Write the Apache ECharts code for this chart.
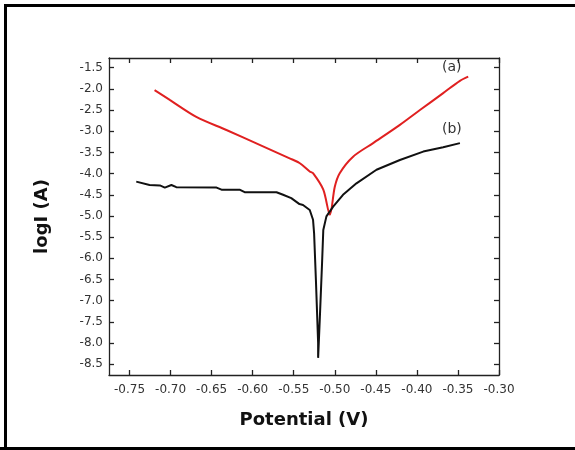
<!DOCTYPE html>
<html>
<head>
<meta charset="utf-8">
<script src="https://cdn.jsdelivr.net/npm/echarts@6/dist/echarts.min.js"></script>
<style>
html, body { margin: 0; padding: 0; background: #fff; }
#main { width: 575px; height: 450px; }
</style>
</head>
<body>
<div id="main"></div>
<script>
'use strict';

// tick values
var xTicks = [-0.75, -0.70, -0.65, -0.60, -0.55, -0.50, -0.45, -0.40, -0.35, -0.30];
var yTicks = [-8.5, -8.0, -7.5, -7.0, -6.5, -6.0, -5.5, -5.0, -4.5, -4.0, -3.5, -3.0, -2.5, -2.0, -1.5];

// curve (a) - red
var potentialA = [-0.7195, -0.701, -0.6687, -0.632, -0.5915, -0.555, -0.543, -0.5305, -0.5265, -0.514, -0.506,
    -0.500, -0.494, -0.4777, -0.4533, -0.4207, -0.3963, -0.368, -0.3476, -0.3375];
var logIA = [-2.03, -2.26, -2.66, -2.97, -3.32, -3.64, -3.75, -3.95, -3.99, -4.38, -4.97,
    -4.31, -3.99, -3.60, -3.28, -2.85, -2.50, -2.10, -1.81, -1.71];

// curve (b) - black
var potentialB = [-0.7418, -0.7256, -0.713, -0.707, -0.699, -0.693, -0.644, -0.638, -0.616, -0.6098, -0.571,
    -0.563, -0.553, -0.543, -0.5387, -0.5305, -0.5265, -0.5252, -0.523, -0.5203, -0.5203,
    -0.5183, -0.5155, -0.514, -0.5102, -0.502, -0.490, -0.4736, -0.4492, -0.4207, -0.3923, -0.368, -0.3476];
var logIB = [-4.19, -4.27, -4.28, -4.33, -4.27, -4.32, -4.33, -4.38, -4.38, -4.44, -4.44,
    -4.50, -4.58, -4.72, -4.74, -4.86, -5.09, -5.41, -6.51, -8.00, -8.35,
    -7.45, -6.11, -5.33, -5.01, -4.78, -4.50, -4.23, -3.91, -3.68, -3.48, -3.38, -3.28];

function zip(xs, ys) {
    var out = [];
    for (var i = 0; i < xs.length; i++) {
        out.push([xs[i], ys[i]]);
    }
    return out;
}

var myChart = echarts.init(document.getElementById('main'));

var fnt = '"DejaVu Sans", Verdana, sans-serif';
var lineStyle = { color: '#222', width: 1.3 };

function xAxisOf(pos, showLabel) {
    return {
        type: 'value',
        position: pos,
        min: -0.775,
        max: -0.30,
        splitLine: { show: false },
        axisLine: { show: true, onZero: false, lineStyle: lineStyle },
        axisTick: { show: true, inside: true, length: 5, lineStyle: lineStyle, customValues: xTicks },
        axisLabel: {
            show: showLabel, customValues: xTicks, color: '#333', fontFamily: fnt, fontSize: 12, margin: 9,
            formatter: function(v) { return v.toFixed(2); }
        }
    };
}

function yAxisOf(pos, showLabel) {
    return {
        type: 'value',
        position: pos,
        min: -8.755,
        max: -1.271,
        splitLine: { show: false },
        axisLine: { show: true, onZero: false, lineStyle: lineStyle },
        axisTick: { show: true, inside: true, length: 5, lineStyle: lineStyle, customValues: yTicks },
        axisLabel: {
            show: showLabel, customValues: yTicks, color: '#333', fontFamily: fnt, fontSize: 12, margin: 6,
            formatter: function(v) { return v.toFixed(1); }
        }
    };
}

var xMain = xAxisOf('bottom', true);
xMain.name = 'Potential (V)';
xMain.nameLocation = 'middle';
xMain.nameGap = 36;
xMain.nameTextStyle = { fontFamily: fnt, fontSize: 18, fontWeight: 'bold', color: '#111' };

var yMain = yAxisOf('left', true);
yMain.name = 'logI (A)';
yMain.nameLocation = 'middle';
yMain.nameGap = 58;
yMain.nameTextStyle = { fontFamily: fnt, fontSize: 18, fontWeight: 'bold', color: '#111' };

var option = {
    animation: false,
    backgroundColor: '#fff',
    grid: { left: 109, right: 76, top: 58, bottom: 75 },
    xAxis: [xMain, xAxisOf('top', false)],
    yAxis: [yMain, yAxisOf('right', false)],
    graphic: [
        {
            type: 'polyline',
            shape: { points: [[5.5, 450], [5.5, 5.5], [575, 5.5]] },
            style: { stroke: '#000', lineWidth: 3, fill: null }
        },
        {
            type: 'line',
            shape: { x1: 0, y1: 448.5, x2: 575, y2: 448.5 },
            style: { stroke: '#000', lineWidth: 3 }
        },
        {
            type: 'text', left: 442, top: 60,
            style: { text: '(a)', font: '14px ' + fnt, fill: '#333' }
        },
        {
            type: 'text', left: 442, top: 122,
            style: { text: '(b)', font: '14px ' + fnt, fill: '#333' }
        }
    ],
    series: [
        {
            name: '(a)',
            type: 'line',
            showSymbol: false,
            smooth: 0.3,
            data: zip(potentialA, logIA),
            lineStyle: { color: '#e02020', width: 2 }
        },
        {
            name: '(b)',
            type: 'line',
            showSymbol: false,
            data: zip(potentialB, logIB),
            lineStyle: { color: '#111', width: 2 }
        }
    ]
};

myChart.setOption(option);
</script>
</body>
</html>
